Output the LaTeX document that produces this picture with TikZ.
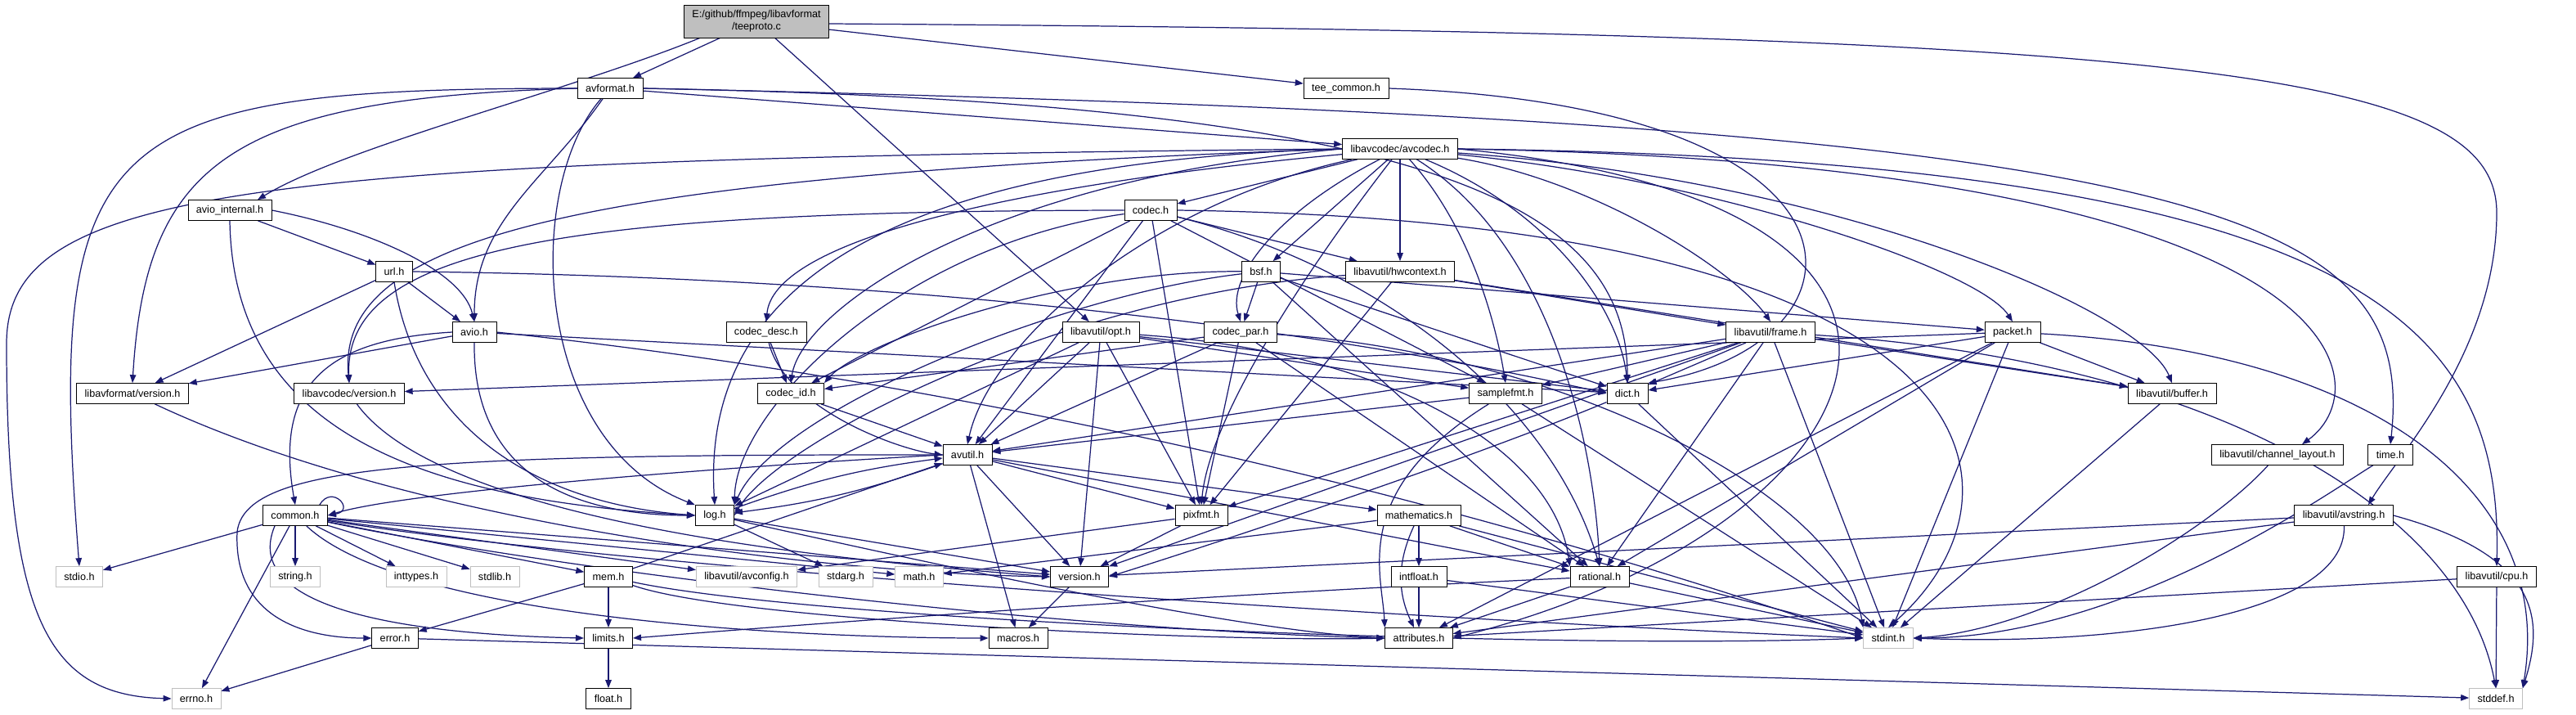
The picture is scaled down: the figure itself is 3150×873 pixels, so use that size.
\documentclass[tikz,border=0pt]{standalone}
\usepackage{fontspec}
\setmainfont{Liberation Sans}
\usetikzlibrary{arrows.meta, backgrounds}
\definecolor{edgeblue}{HTML}{191970}
\definecolor{sysgray}{HTML}{BFBFBF}

\begin{document}
\begin{tikzpicture}[
    x=0.02cm, y=-0.02cm,
    hdr/.style={draw=black, fill=white, font=\fontsize{7.2}{8.5}\selectfont, minimum height=0.5cm, inner xsep=0.2cm, inner ysep=0pt},
    sys/.style={hdr, draw=sysgray},
    root/.style={hdr, fill=sysgray, align=center, minimum height=0.8cm},
    dep/.style={draw=edgeblue, line width=0.7pt, -{Triangle[length=0.2cm, width=0.15cm]}},
]
\path[use as bounding box] (0,0) rectangle (3150,873);

\node[root] (tee) at (925, 26) {E:/github/ffmpeg/libavformat\\/teeproto.c};
\node[hdr] (avformat) at (746, 108) {avformat.h};
\node[hdr] (teecommon) at (1646, 108) {tee\_common.h};
\node[hdr] (avcodec) at (1712, 182) {libavcodec/avcodec.h};
\node[hdr] (aviointernal) at (281, 257) {avio\_internal.h};
\node[hdr] (codec) at (1407, 257) {codec.h};
\node[hdr] (url) at (482, 332) {url.h};
\node[hdr] (bsf) at (1542, 332) {bsf.h};
\node[hdr] (hwcontext) at (1712, 332) {libavutil/hwcontext.h};
\node[hdr] (avio) at (580, 406) {avio.h};
\node[hdr] (codecdesc) at (937, 406) {codec\_desc.h};
\node[hdr] (opt) at (1346, 406) {libavutil/opt.h};
\node[hdr] (codecpar) at (1517, 406) {codec\_par.h};
\node[hdr] (frame) at (2165, 406) {libavutil/frame.h};
\node[hdr] (packet) at (2461, 406) {packet.h};
\node[hdr] (lavfversion) at (162, 481) {libavformat/version.h};
\node[hdr] (lavcversion) at (427, 481) {libavcodec/version.h};
\node[hdr] (codecid) at (967, 481) {codec\_id.h};
\node[hdr] (samplefmt) at (1841, 481) {samplefmt.h};
\node[hdr] (dict) at (1990, 481) {dict.h};
\node[hdr] (buffer) at (2656, 481) {libavutil/buffer.h};
\node[hdr] (avutil) at (1183, 556) {avutil.h};
\node[hdr] (chlayout) at (2785, 556) {libavutil/channel\_layout.h};
\node[hdr] (timeh) at (2923, 556) {time.h};
\node[hdr] (common) at (361, 630) {common.h};
\node[hdr] (log) at (874, 630) {log.h};
\node[hdr] (pixfmt) at (1469, 630) {pixfmt.h};
\node[hdr] (mathematics) at (1735, 630) {mathematics.h};
\node[hdr] (avstring) at (2866, 630) {libavutil/avstring.h};
\node[sys] (stdio) at (97, 705) {stdio.h};
\node[sys] (stringh) at (361, 705) {string.h};
\node[sys] (inttypes) at (509, 705) {inttypes.h};
\node[sys] (stdlib) at (605, 705) {stdlib.h};
\node[hdr] (mem) at (744, 705) {mem.h};
\node[sys] (avconfig) at (913, 705) {libavutil/avconfig.h};
\node[sys] (stdarg) at (1034, 705) {stdarg.h};
\node[sys] (math) at (1124, 705) {math.h};
\node[hdr] (version) at (1320, 705) {version.h};
\node[hdr] (intfloat) at (1735, 705) {intfloat.h};
\node[hdr] (rational) at (1956, 705) {rational.h};
\node[hdr] (cpu) at (3053, 705) {libavutil/cpu.h};
\node[hdr] (error) at (483, 780) {error.h};
\node[hdr] (limits) at (744, 780) {limits.h};
\node[hdr] (macros) at (1245, 780) {macros.h};
\node[hdr] (attributes) at (1735, 780) {attributes.h};
\node[sys] (stdint) at (2309, 780) {stdint.h};
\node[sys] (errno) at (240, 854) {errno.h};
\node[hdr] (float) at (744, 854) {float.h};
\node[sys] (stddef) at (3052, 854) {stddef.h};

\begin{scope}[on background layer]
% teeproto.c
\draw[dep] (tee) -- (avformat);
\draw[dep] ([xshift=0.4cm]tee.south west) .. controls (700,110) and (420,180) .. ([xshift=-0.35cm]aviointernal.north east);
\draw[dep] (tee) -- (opt);
\draw[dep] (tee) -- (teecommon);
\draw[dep] ([yshift=-0.06cm]tee.east) .. controls (2700,40) and (3053,90) .. (3053,260) .. controls (3053,430) and (2930,560) .. ([xshift=0.6cm]avstring.north);

% avformat.h
\draw[dep] (avformat.west) .. controls (120,108) and (55,160) .. (stdio.north);
\draw[dep] (avformat.west) .. controls (280,120) and (178,200) .. (lavfversion.north);
\draw[dep] (avformat) to[out=235, in=90] (avio);
\draw[dep] (avformat) .. controls (640,230) and (650,540) .. (log.north west);
\draw[dep] (avformat) -- (avcodec);
\draw[dep] (avformat.east) .. controls (1750,125) and (1990,250) .. (dict.north);
\draw[dep] (avformat.east) .. controls (2700,150) and (2955,250) .. (timeh.north);

% tee_common.h
\draw[dep] (teecommon.east) .. controls (2320,130) and (2300,420) .. (dict.north east);

% avio_internal.h
\draw[dep] (aviointernal.east) .. controls (450,280) and (565,330) .. (avio.north);
\draw[dep] (aviointernal) -- (url);
\draw[dep] (aviointernal.south) .. controls (285,520) and (500,610) .. (log.west);

% url.h
\draw[dep] (url) -- (avio);
\draw[dep] (url) -- (lavfversion);
\draw[dep] (url.south) .. controls (510,520) and (650,615) .. (log.west);
\draw[dep] (url.east) .. controls (1200,340) and (1700,420) .. (dict.west);

% avio.h
\draw[dep] (avio.west) .. controls (400,415) and (335,470) .. (common.north);
\draw[dep] (avio) -- (lavfversion);
\draw[dep] (avio.south) .. controls (578,580) and (700,630) .. (log.west);
\draw[dep] (avio) -- (dict);
\draw[dep] (avio.east) .. controls (1300,480) and (1900,650) .. (stdint.west);

% libavcodec/avcodec.h
\draw[dep] (avcodec) -- (codec);
\draw[dep] (avcodec) -- (bsf);
\draw[dep] (avcodec) -- (hwcontext);
\draw[dep] (avcodec) .. controls (1200,230) and (945,300) .. (codecdesc.north);
\draw[dep] (avcodec) .. controls (1560,260) and (1500,340) .. (codecpar.north);
\draw[dep] (avcodec.west) .. controls (1200,220) and (980,380) .. (codecid.north);
\draw[dep] (avcodec.west) .. controls (700,215) and (410,290) .. (lavcversion.north);
\draw[dep] (avcodec.west) .. controls (300,195) and (8,230) .. (8,420) .. controls (8,760) and (60,850) .. (errno.west);
\draw[dep] (avcodec) .. controls (1400,250) and (1210,420) .. (avutil.north);
\draw[dep] (avcodec.west) .. controls (1000,200) and (860,400) .. (log.north);
\draw[dep] (avcodec) .. controls (1800,280) and (1830,400) .. (samplefmt.north);
\draw[dep] (avcodec) .. controls (1900,260) and (1980,380) .. (dict.north);
\draw[dep] (avcodec) .. controls (1950,220) and (2120,330) .. (frame.north);
\draw[dep] (avcodec) .. controls (2100,220) and (2420,330) .. (packet.north);
\draw[dep] (avcodec) .. controls (2250,220) and (2620,380) .. (buffer.north);
\draw[dep] (avcodec.east) .. controls (2880,200) and (2915,470) .. ([xshift=0.6cm]chlayout.north);
\draw[dep] (avcodec.east) .. controls (2900,195) and (3060,400) .. (cpu.north);
\draw[dep] (avcodec) .. controls (1620,300) and (1480,500) .. (pixfmt.north);
\draw[dep] (avcodec) .. controls (1900,300) and (1950,550) .. (rational.north);
\draw[dep] (avcodec.east) .. controls (2500,250) and (2300,650) .. (attributes.east);

% codec.h
\draw[dep] (codec.east) .. controls (2450,270) and (2500,600) .. (stdint.north);
\draw[dep] (codec) -- (avutil);
\draw[dep] (codec) -- (hwcontext);
\draw[dep] (codec) .. controls (1100,300) and (900,500) .. (log.north east);
\draw[dep] (codec) -- (pixfmt);
\draw[dep] (codec) .. controls (1700,330) and (1900,500) .. (rational.north);
\draw[dep] (codec) -- (samplefmt);
\draw[dep] (codec) -- (codecid);
\draw[dep] (codec.west) .. controls (700,258) and (420,300) .. (lavcversion.north);

% bsf.h
\draw[dep] (bsf) -- (dict);
\draw[dep] (bsf) .. controls (1300,360) and (950,500) .. (log.north east);
\draw[dep] (bsf) -- (rational);
\draw[dep] (bsf) .. controls (1300,330) and (1050,420) .. (codecid.north east);
\draw[dep] (bsf) -- (codecpar);
\draw[dep] (bsf) -- (packet);

% libavutil/hwcontext.h
\draw[dep] (hwcontext) -- (buffer);
\draw[dep] (hwcontext) -- (frame);
\draw[dep] (hwcontext) .. controls (1300,360) and (950,540) .. (log.east);
\draw[dep] (hwcontext) -- (pixfmt);

% codec_desc.h
\draw[dep] (codecdesc) .. controls (960,500) and (1100,550) .. (avutil.west);
\draw[dep] (codecdesc) -- (codecid);

% libavutil/opt.h
\draw[dep] (opt) .. controls (1700,430) and (1900,550) .. (rational.north west);
\draw[dep] (opt) -- (avutil);
\draw[dep] (opt) -- (dict);
\draw[dep] (opt) -- (log);
\draw[dep] (opt) -- (pixfmt);
\draw[dep] (opt) -- (samplefmt);
\draw[dep] (opt) -- (version);

% codec_par.h
\draw[dep] (codecpar) .. controls (1900,430) and (2250,600) .. (stdint.north west);
\draw[dep] (codecpar) -- (avutil);
\draw[dep] (codecpar) -- (rational);
\draw[dep] (codecpar) -- (pixfmt);
\draw[dep] (codecpar) -- (codecid);

% libavutil/frame.h
\draw[dep] (frame) .. controls (2700,440) and (3010,620) .. (stddef.north);
\draw[dep] (frame) -- (stdint);
\draw[dep] (frame) -- (avutil);
\draw[dep] (frame) -- (buffer);
\draw[dep] (frame) -- (dict);
\draw[dep] (frame) -- (rational);
\draw[dep] (frame) -- (samplefmt);
\draw[dep] (frame) -- (pixfmt);
\draw[dep] (frame) -- (version);

% packet.h
\draw[dep] (packet) .. controls (2900,430) and (3125,600) .. (stddef.north east);
\draw[dep] (packet) -- (stdint);
\draw[dep] (packet) -- (attributes);
\draw[dep] (packet) -- (buffer);
\draw[dep] (packet) -- (dict);
\draw[dep] (packet) -- (rational);
\draw[dep] (packet) -- (lavcversion);

% version headers, codec_id.h
\draw[dep] (lavfversion) .. controls (500,640) and (1000,700) .. (version.west);
\draw[dep] (lavcversion) .. controls (550,650) and (1100,690) .. (version.west);
\draw[dep] (codecid) -- (avutil);

% samplefmt.h, dict.h, buffer.h
\draw[dep] (samplefmt) -- (stdint);
\draw[dep] (samplefmt) -- (avutil);
\draw[dep] (samplefmt) .. controls (1650,600) and (1690,700) .. (attributes.north west);
\draw[dep] (dict) -- (stdint);
\draw[dep] (dict) .. controls (1800,560) and (1500,660) .. (version.east);
\draw[dep] (buffer) -- (stdint);

% avutil.h
\draw[dep] (avutil.west) .. controls (900,570) and (500,600) .. (common.east);
\draw[dep] (avutil.west) .. controls (500,555) and (300,570) .. (290,650) .. controls (285,760) and (380,780) .. (error.west);
\draw[dep] (avutil) -- (rational);
\draw[dep] (avutil) -- (version);
\draw[dep] (avutil) -- (macros);
\draw[dep] (avutil) -- (mathematics);
\draw[dep] (avutil) to[bend left=6] (log);
\draw[dep] (avutil) -- (pixfmt);

% channel_layout.h, time.h
\draw[dep] (chlayout) .. controls (2700,650) and (2500,770) .. (stdint.east);
\draw[dep] (timeh) .. controls (2850,600) and (2600,780) .. (stdint.east);

% common.h
\draw[dep] (common) -- (errno);
\draw[dep] (common) -- (inttypes);
\draw[dep] ([xshift=-0.5cm]common.south) .. controls (295,740) and (480,775) .. (limits.west);
\draw[dep] (common) -- (math);
\draw[dep] (common) .. controls (800,700) and (1800,760) .. (stdint.west);
\draw[dep] (common) -- (stdio);
\draw[dep] (common) -- (stdlib);
\draw[dep] (common) -- (stringh);
\draw[dep] (common) .. controls (700,700) and (1300,770) .. (attributes.west);
\draw[dep] (common) .. controls (500,760) and (1000,780) .. (macros.west);
\draw[dep] (common) -- (version);
\draw[dep] (common) -- (avconfig);
\draw[dep] (common) -- (mem);
\draw[dep] ([xshift=-0.2cm]common.north east) .. controls +(60:0.6cm) and +(10:0.7cm) .. (common.east);

% log.h
\draw[dep] (log) to[bend left=6] (avutil);
\draw[dep] (log) .. controls (1100,680) and (1500,770) .. (attributes.west);
\draw[dep] (log) -- (version);
\draw[dep] (log) -- (stdarg);

% pixfmt.h, mathematics.h
\draw[dep] (pixfmt) -- (avconfig);
\draw[dep] (pixfmt) -- (version);
\draw[dep] (mathematics) -- (stdint);
\draw[dep] (mathematics) -- (math);
\draw[dep] (mathematics) to[bend right=25] (attributes);
\draw[dep] (mathematics) -- (rational);
\draw[dep] (mathematics) -- (intfloat);

% libavutil/avstring.h
\draw[dep] (avstring.east) .. controls (3110,680) and (3110,760) .. (stddef.north east);
\draw[dep] (avstring) .. controls (2870,750) and (2600,790) .. (stdint.east);
\draw[dep] (avstring) -- (attributes);
\draw[dep] (avstring) -- (version);

% mem.h
\draw[dep] (mem) .. controls (900,760) and (1500,785) .. (attributes.west);
\draw[dep] (mem) -- (error);
\draw[dep] (mem) -- (avutil);
\draw[dep] (mem) -- (limits);
\draw[dep] (mem) .. controls (1000,760) and (1900,795) .. (stdint.west);

% remaining leaves
\draw[dep] (version) -- (macros);
\draw[dep] (intfloat) -- (stdint);
\draw[dep] (intfloat) -- (attributes);
\draw[dep] (rational) -- (stdint);
\draw[dep] (rational) .. controls (1400,730) and (900,770) .. (limits.east);
\draw[dep] (rational) -- (attributes);
\draw[dep] (cpu) -- (attributes);
\draw[dep] (cpu) -- (stddef);
\draw[dep] (error) -- (errno);
\draw[dep] (error) -- (stddef);
\draw[dep] (limits) -- (float);
\end{scope}
\end{tikzpicture}
\end{document}
